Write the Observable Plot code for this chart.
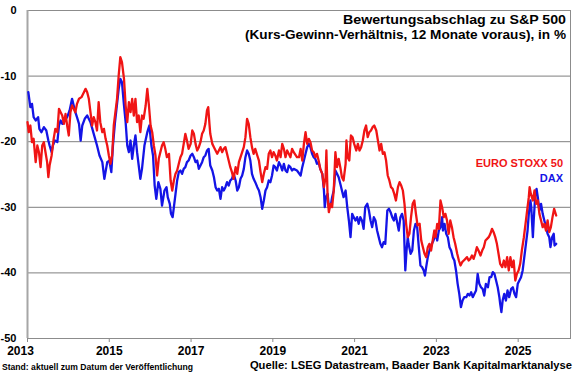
<!DOCTYPE html>
<html><head><meta charset="utf-8">
<script src="https://cdn.jsdelivr.net/npm/d3@7"></script>
<script src="https://cdn.jsdelivr.net/npm/@observablehq/plot@0.6"></script>
<style>
body{margin:0;background:#fff;}
#chart svg{display:block;}
</style>
</head><body><div id="chart"></div>
<script>
// ---- data (decimal years, valuation discount in %) ----
const daxDates = [2013.02,2013.07,2013.11,2013.15,2013.20,2013.26,2013.29,2013.34,2013.40,2013.46,2013.51,2013.54,2013.59,2013.62,2013.67,2013.73,2013.77,2013.81,2013.85,2013.91,2013.97,2014.03,2014.09,2014.13,2014.17,2014.21,2014.26,2014.30,2014.34,2014.40,2014.46,2014.54,2014.62,2014.70,2014.76,2014.83,2014.88,2014.95,2015.00,2015.05,2015.09,2015.14,2015.19,2015.23,2015.27,2015.31,2015.36,2015.40,2015.44,2015.48,2015.52,2015.56,2015.60,2015.64,2015.68,2015.72,2015.76,2015.80,2015.86,2015.93,2015.98,2016.03,2016.07,2016.11,2016.15,2016.20,2016.25,2016.29,2016.35,2016.40,2016.43,2016.48,2016.51,2016.55,2016.58,2016.62,2016.66,2016.70,2016.74,2016.78,2016.82,2016.86,2016.90,2016.94,2016.99,2017.03,2017.07,2017.11,2017.15,2017.19,2017.23,2017.27,2017.31,2017.35,2017.39,2017.43,2017.47,2017.52,2017.56,2017.60,2017.64,2017.68,2017.72,2017.76,2017.80,2017.84,2017.88,2017.92,2017.96,2018.00,2018.04,2018.09,2018.13,2018.17,2018.21,2018.25,2018.29,2018.33,2018.37,2018.41,2018.45,2018.49,2018.53,2018.57,2018.62,2018.66,2018.70,2018.74,2018.78,2018.82,2018.86,2018.90,2018.94,2018.98,2019.02,2019.06,2019.10,2019.15,2019.19,2019.23,2019.27,2019.31,2019.35,2019.39,2019.43,2019.47,2019.51,2019.59,2019.68,2019.72,2019.76,2019.80,2019.84,2019.88,2019.92,2019.96,2020.00,2020.04,2020.08,2020.12,2020.16,2020.21,2020.25,2020.27,2020.30,2020.34,2020.37,2020.41,2020.45,2020.49,2020.53,2020.57,2020.61,2020.65,2020.69,2020.73,2020.78,2020.82,2020.86,2020.90,2020.94,2020.98,2021.02,2021.06,2021.10,2021.14,2021.18,2021.22,2021.26,2021.31,2021.35,2021.39,2021.43,2021.47,2021.51,2021.55,2021.59,2021.63,2021.67,2021.71,2021.75,2021.80,2021.84,2021.88,2021.92,2021.96,2022.00,2022.04,2022.08,2022.12,2022.16,2022.20,2022.24,2022.27,2022.30,2022.32,2022.37,2022.41,2022.45,2022.49,2022.53,2022.57,2022.61,2022.65,2022.69,2022.72,2022.75,2022.79,2022.83,2022.89,2022.93,2022.98,2023.02,2023.06,2023.10,2023.14,2023.16,2023.20,2023.24,2023.28,2023.32,2023.36,2023.40,2023.44,2023.48,2023.52,2023.56,2023.60,2023.64,2023.68,2023.73,2023.77,2023.81,2023.85,2023.89,2023.93,2023.97,2024.01,2024.05,2024.09,2024.13,2024.17,2024.21,2024.26,2024.30,2024.34,2024.38,2024.42,2024.46,2024.50,2024.54,2024.56,2024.59,2024.62,2024.66,2024.70,2024.74,2024.78,2024.83,2024.87,2024.91,2024.95,2024.99,2025.03,2025.07,2025.11,2025.15,2025.19,2025.23,2025.26,2025.30,2025.32,2025.36,2025.38,2025.42,2025.45,2025.48,2025.52,2025.56,2025.60,2025.64,2025.68,2025.72,2025.76,2025.79,2025.83,2025.87,2025.89,2025.93];
const daxValues = [-12.45,-14.74,-14.23,-16.26,-16.77,-16.26,-18.04,-18.55,-17.78,-18.29,-19.82,-20.58,-21.60,-20.58,-19.82,-20.07,-17.53,-16.77,-17.28,-16.77,-16.26,-15.24,-13.46,-14.48,-15.50,-16.26,-17.28,-19.82,-17.53,-16.51,-16.01,-17.02,-18.80,-20.58,-22.10,-23.12,-25.66,-23.12,-22.87,-24.64,-20.58,-17.02,-14.23,-11.94,-10.41,-10.93,-14.48,-17.02,-20.58,-21.60,-19.82,-22.61,-20.58,-19.05,-21.60,-23.63,-25.66,-24.14,-20.58,-18.55,-17.53,-20.58,-22.10,-26.68,-28.71,-26.17,-27.18,-29.73,-27.44,-26.93,-28.46,-29.47,-31.00,-31.50,-29.98,-27.95,-25.91,-24.64,-24.39,-24.90,-24.14,-23.88,-23.12,-22.87,-22.10,-21.85,-22.36,-23.12,-22.87,-24.14,-23.63,-23.12,-22.36,-22.10,-21.34,-21.09,-23.63,-24.39,-25.41,-26.93,-27.44,-27.18,-28.71,-26.93,-27.44,-26.93,-26.17,-26.68,-25.91,-25.66,-24.90,-25.91,-27.44,-26.93,-25.66,-25.15,-24.14,-22.36,-21.34,-21.85,-22.87,-24.90,-25.66,-26.17,-26.93,-27.44,-28.46,-30.23,-28.96,-27.44,-26.93,-25.91,-26.17,-25.15,-23.63,-23.88,-24.39,-23.12,-23.63,-24.39,-23.37,-24.39,-24.64,-23.63,-23.88,-24.39,-24.14,-24.39,-25.15,-23.88,-22.87,-21.85,-20.83,-20.33,-20.83,-21.85,-22.36,-22.61,-23.37,-23.12,-24.14,-24.90,-27.44,-29.98,-28.46,-27.95,-29.98,-29.98,-28.46,-27.44,-24.39,-24.90,-25.41,-26.42,-27.44,-28.46,-27.44,-29.98,-32.01,-34.55,-31.00,-31.50,-32.01,-31.50,-32.52,-31.50,-32.01,-33.28,-29.98,-29.47,-30.49,-32.01,-33.03,-31.50,-32.01,-33.54,-34.55,-35.57,-36.08,-35.31,-35.57,-30.49,-30.23,-30.74,-31.50,-32.01,-31.00,-32.27,-33.54,-31.50,-31.00,-32.01,-39.63,-36.59,-34.55,-35.57,-37.09,-36.59,-33.54,-32.52,-33.03,-36.08,-38.87,-39.12,-39.63,-40.40,-39.12,-37.60,-36.59,-35.57,-35.06,-34.04,-35.06,-33.54,-33.03,-31.50,-33.54,-32.52,-34.04,-34.55,-36.08,-36.59,-37.60,-38.11,-39.63,-41.67,-43.19,-45.22,-44.21,-43.70,-43.70,-43.19,-43.45,-42.94,-43.70,-43.19,-42.68,-40.14,-41.67,-42.18,-42.43,-43.45,-41.67,-42.18,-40.65,-40.65,-39.89,-40.14,-41.16,-42.18,-43.70,-44.72,-45.99,-44.21,-43.19,-44.21,-42.68,-43.70,-42.43,-42.18,-43.19,-43.70,-41.67,-41.16,-40.65,-39.63,-37.60,-35.57,-33.54,-31.00,-28.96,-29.98,-34.55,-32.01,-27.95,-27.18,-28.46,-30.49,-29.47,-31.00,-32.01,-33.03,-34.04,-34.55,-36.08,-34.55,-34.04,-35.82,-35.57];

const stoxxDates = [2013.00,2013.03,2013.07,2013.11,2013.15,2013.20,2013.24,2013.28,2013.32,2013.36,2013.40,2013.44,2013.48,2013.51,2013.54,2013.59,2013.64,2013.68,2013.73,2013.77,2013.81,2013.85,2013.89,2013.93,2013.97,2014.01,2014.05,2014.09,2014.13,2014.17,2014.21,2014.26,2014.32,2014.38,2014.42,2014.46,2014.50,2014.54,2014.58,2014.62,2014.66,2014.70,2014.74,2014.78,2014.83,2014.87,2014.91,2014.95,2014.99,2015.03,2015.07,2015.11,2015.15,2015.19,2015.23,2015.27,2015.31,2015.36,2015.40,2015.44,2015.48,2015.52,2015.56,2015.60,2015.64,2015.68,2015.72,2015.76,2015.80,2015.84,2015.89,2015.93,2015.97,2016.01,2016.05,2016.09,2016.13,2016.17,2016.21,2016.29,2016.33,2016.37,2016.41,2016.46,2016.50,2016.54,2016.58,2016.62,2016.66,2016.70,2016.74,2016.78,2016.82,2016.86,2016.90,2016.94,2016.99,2017.03,2017.07,2017.11,2017.15,2017.19,2017.23,2017.27,2017.31,2017.35,2017.39,2017.42,2017.45,2017.47,2017.52,2017.56,2017.60,2017.64,2017.68,2017.72,2017.76,2017.80,2017.84,2017.88,2017.92,2017.96,2018.00,2018.04,2018.09,2018.13,2018.17,2018.21,2018.25,2018.29,2018.33,2018.37,2018.41,2018.45,2018.49,2018.53,2018.57,2018.62,2018.66,2018.70,2018.74,2018.78,2018.82,2018.86,2018.90,2018.94,2018.98,2019.02,2019.06,2019.10,2019.15,2019.19,2019.23,2019.27,2019.31,2019.35,2019.39,2019.43,2019.47,2019.51,2019.59,2019.64,2019.68,2019.72,2019.76,2019.80,2019.84,2019.88,2019.92,2019.96,2020.00,2020.04,2020.08,2020.12,2020.16,2020.21,2020.25,2020.29,2020.31,2020.34,2020.37,2020.41,2020.45,2020.49,2020.53,2020.57,2020.61,2020.65,2020.69,2020.73,2020.78,2020.80,2020.83,2020.87,2020.91,2020.95,2020.99,2021.04,2021.08,2021.12,2021.16,2021.20,2021.24,2021.28,2021.32,2021.36,2021.40,2021.44,2021.48,2021.53,2021.57,2021.61,2021.65,2021.69,2021.73,2021.77,2021.81,2021.85,2021.89,2021.93,2021.97,2022.01,2022.06,2022.10,2022.14,2022.18,2022.22,2022.26,2022.30,2022.34,2022.38,2022.42,2022.46,2022.50,2022.54,2022.59,2022.63,2022.67,2022.71,2022.75,2022.79,2022.83,2022.87,2022.91,2022.95,2022.98,2023.02,2023.06,2023.10,2023.14,2023.18,2023.22,2023.26,2023.30,2023.34,2023.38,2023.42,2023.46,2023.51,2023.55,2023.59,2023.63,2023.67,2023.71,2023.75,2023.79,2023.83,2023.87,2023.91,2023.95,2023.99,2024.03,2024.08,2024.12,2024.16,2024.20,2024.24,2024.28,2024.32,2024.36,2024.40,2024.44,2024.48,2024.52,2024.56,2024.61,2024.65,2024.69,2024.73,2024.77,2024.81,2024.85,2024.89,2024.93,2024.97,2025.01,2025.05,2025.09,2025.14,2025.18,2025.22,2025.26,2025.28,2025.31,2025.36,2025.40,2025.44,2025.48,2025.52,2025.56,2025.60,2025.64,2025.68,2025.72,2025.76,2025.80,2025.84,2025.88,2025.93];
const stoxxValues = [-17.02,-18.55,-17.53,-20.07,-19.56,-23.12,-20.58,-21.60,-23.88,-20.58,-20.07,-21.60,-23.12,-25.41,-23.63,-22.10,-19.56,-18.04,-18.55,-14.99,-15.50,-16.01,-17.28,-15.75,-17.53,-19.05,-15.50,-14.48,-14.99,-15.50,-14.23,-13.46,-13.21,-12.45,-11.94,-12.45,-13.46,-15.50,-17.53,-16.26,-17.02,-18.29,-13.97,-17.02,-18.55,-18.04,-19.56,-20.58,-22.10,-23.37,-22.10,-17.53,-15.50,-13.46,-9.91,-7.11,-7.88,-10.41,-14.48,-17.02,-13.97,-15.50,-13.46,-16.01,-13.46,-17.02,-16.01,-18.55,-16.01,-16.51,-14.48,-11.94,-14.48,-17.53,-18.55,-20.58,-22.10,-25.15,-22.61,-20.58,-20.07,-21.09,-22.36,-21.85,-25.91,-27.44,-25.91,-24.90,-24.39,-23.37,-22.36,-21.85,-20.33,-18.80,-19.82,-21.09,-20.33,-18.29,-18.80,-20.33,-21.34,-20.83,-20.07,-18.80,-18.29,-17.28,-15.24,-14.74,-17.28,-18.80,-20.33,-20.83,-21.34,-21.85,-21.34,-20.83,-21.60,-21.09,-20.83,-21.85,-22.87,-23.88,-24.64,-25.66,-23.88,-24.90,-23.12,-22.36,-21.60,-20.83,-19.31,-16.51,-17.28,-19.31,-20.83,-21.85,-21.09,-22.10,-22.87,-24.64,-26.17,-24.90,-23.88,-24.14,-21.85,-21.34,-22.36,-21.60,-22.10,-22.87,-21.34,-22.36,-20.33,-21.09,-22.36,-21.34,-21.85,-22.36,-21.09,-21.60,-22.36,-22.36,-21.09,-22.87,-20.33,-18.55,-20.33,-19.56,-20.07,-21.34,-21.60,-22.36,-21.85,-22.87,-24.14,-24.90,-26.93,-25.41,-21.34,-28.46,-30.74,-29.47,-29.98,-27.44,-21.60,-23.88,-22.61,-23.88,-25.41,-25.91,-23.37,-19.82,-22.36,-22.87,-19.05,-19.31,-20.33,-21.34,-20.33,-21.34,-20.83,-19.82,-18.29,-17.53,-19.31,-18.55,-18.29,-17.78,-17.53,-18.29,-19.82,-21.34,-20.33,-21.85,-21.60,-22.87,-25.15,-25.91,-26.93,-27.18,-27.95,-28.96,-26.93,-26.17,-26.68,-27.44,-29.47,-32.52,-34.55,-34.04,-31.50,-29.47,-28.96,-31.00,-32.77,-32.52,-35.06,-36.08,-37.09,-37.60,-36.08,-35.57,-36.59,-35.06,-33.54,-34.55,-32.52,-33.28,-28.96,-29.98,-31.50,-31.00,-32.01,-34.04,-32.01,-33.03,-34.55,-35.57,-37.09,-38.11,-38.87,-38.36,-38.11,-37.86,-37.60,-38.11,-37.86,-37.35,-37.86,-37.09,-36.08,-36.59,-37.35,-36.59,-36.08,-35.06,-34.81,-34.55,-34.04,-33.28,-33.79,-34.55,-35.57,-37.09,-38.62,-39.12,-38.11,-39.12,-37.60,-39.63,-37.60,-39.12,-38.11,-41.16,-40.14,-39.63,-38.62,-36.59,-34.55,-32.52,-30.49,-28.46,-26.93,-27.95,-28.96,-27.44,-29.47,-28.96,-31.00,-32.01,-33.03,-32.52,-33.54,-32.01,-33.79,-33.03,-31.50,-30.23,-31.25];

const xTicks = [2013, 2015, 2017, 2019, 2021, 2023, 2025];
const yTicks = [0, -10, -20, -30, -40, -50];
const gridTicks = [-10, -20, -30, -40];
const seriesNames = ["EURO STOXX 50", "DAX"];
const seriesColors = ["#f01414", "#1414e6"];
const titleLines = ["Bewertungsabschlag zu S&P 500", "(Kurs-Gewinn-Verhältnis, 12 Monate voraus), in %"];
const noteText = "Stand: aktuell zum Datum der Veröffentlichung";
const sourceText = "Quelle: LSEG Datastream, Baader Bank Kapitalmarktanalyse";

const dax = daxDates.map((d, i) => ({date: d, value: daxValues[i]}));
const stoxx = stoxxDates.map((d, i) => ({date: d, value: stoxxValues[i]}));

const FONT = "'Liberation Sans', Arial, Helvetica, sans-serif";

const chart = Plot.plot({
  width: 580,
  height: 375,
  marginTop: 10,
  marginBottom: 37,
  marginLeft: 27,
  marginRight: 10,
  style: {fontFamily: FONT, fontWeight: "bold", color: "#000", background: "#fff", overflow: "visible"},
  x: {type: "linear", domain: [2013, 2026.28]},
  y: {domain: [-50, 0]},
  marks: [
    Plot.ruleY(gridTicks, {stroke: "#7f7f7f", strokeWidth: 1}),
    Plot.frame({stroke: "#8c8c8c", strokeWidth: 1}),
    Plot.axisY({ticks: yTicks, tickSize: 0, tickPadding: 11, fontSize: 11, fontWeight: "bold", label: null, tickFormat: d => String(d)}),
    Plot.axisX({ticks: xTicks, tickSize: 4, tickPadding: 4, fontSize: 12, fontWeight: "bold", label: null, tickFormat: d => String(d), stroke: "#8c8c8c"}),
    Plot.ruleX([2013], {stroke: "#a6a6a6", strokeWidth: 2}),
    Plot.line(dax, {x: "date", y: "value", stroke: seriesColors[1], strokeWidth: 2.3, strokeLinejoin: "round"}),
    Plot.line(stoxx, {x: "date", y: "value", stroke: seriesColors[0], strokeWidth: 2.3, strokeLinejoin: "round"})
  ]
});

document.getElementById("chart").appendChild(chart);
const svg = d3.select(chart);
// first x label sits slightly left of its tick, as in the original
svg.selectAll("text").filter(function() { return this.textContent === String(xTicks[0]) && this.getAttribute("font-size") !== "11"; })
  .attr("dx", -7);
function addText(txt, x, y, size, anchor, color, len) {
  const t = svg.append("text").attr("x", x).attr("y", y).attr("text-anchor", anchor)
    .attr("font-family", FONT).attr("font-weight", "bold").attr("font-size", size)
    .attr("fill", color).text(txt);
  if (len) t.attr("textLength", len).attr("lengthAdjust", "spacingAndGlyphs");
}
addText(titleLines[0], 566, 24, 13.5, "end", "#000", 223);
addText(titleLines[1], 566, 39, 13.5, "end", "#000", 321);
addText(seriesNames[0], 563, 167, 11, "end", seriesColors[0]);
addText(seriesNames[1], 563, 182, 11, "end", seriesColors[1]);
addText(noteText, 2, 370, 8.5, "start", "#000", 191);
addText(sourceText, 572, 369, 11.2, "end", "#000");
</script>
</body></html>
